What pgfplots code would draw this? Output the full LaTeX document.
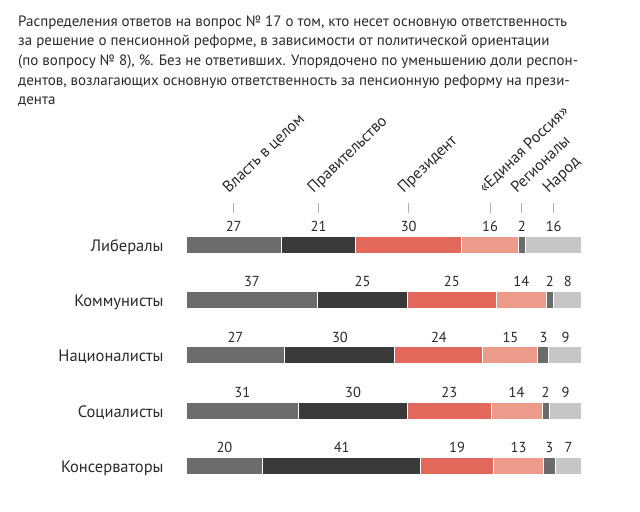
\documentclass[border=0pt]{standalone}
\usepackage{fontspec}
\setmainfont{PT Sans}
\usepackage{pgfplots}
\usepackage{pgfplotstable}
\pgfplotsset{compat=1.18}
\definecolor{cA}{HTML}{6C6C6C}
\definecolor{cB}{HTML}{3A3A3A}
\definecolor{cC}{HTML}{E2685B}
\definecolor{cD}{HTML}{EC9A8A}
\definecolor{cE}{HTML}{6B6B6B}
\definecolor{cF}{HTML}{C6C6C6}
\definecolor{txt}{HTML}{2A2A2A}
\definecolor{tk}{HTML}{B0B0B0}

\pgfplotstableread{
row a b c d e f
0 27 21 30 16 2 16
1 37 25 25 14 2 8
2 27 30 24 15 3 9
3 31 30 23 14 2 9
4 20 41 19 13 3 7
}\data

\newcommand{\T}{(\thisrow{a}+\thisrow{b}+\thisrow{c}+\thisrow{d}+\thisrow{e}+\thisrow{f})}

\pgfplotsset{base/.style={
  scale only axis, width=640bp, height=512bp,
  xmin=-46.97, xmax=114.65, ymin=-4.434, ymax=4.833, y dir=reverse,
  axis lines=none, clip=false, anchor=south west, at={(0,0)},
  /pgf/number format/assume math mode=true
}}
\tikzset{hdr/.style={xshift=-5bp, rotate=44, anchor=base west, inner sep=0pt, text=txt,
    font=\fontsize{16bp}{18bp}\selectfont},
  rl/.style={anchor=base east, inner sep=0pt, yshift=-6.5bp, text=txt,
    font=\fontsize{16.5bp}{18bp}\selectfont},
  tkl/.style={tk, line width=1bp}}

\begin{document}
\begin{tikzpicture}
\begin{axis}[base, xbar stacked, bar width=0.308]
\addplot[fill=cA, draw=white, line width=1bp] table[y=row, x expr={100*\thisrow{a}/\T}]{\data};
\addplot[fill=cB, draw=white, line width=1bp] table[y=row, x expr={100*\thisrow{b}/\T}]{\data};
\addplot[fill=cC, draw=white, line width=1bp] table[y=row, x expr={100*\thisrow{c}/\T}]{\data};
\addplot[fill=cD, draw=white, line width=1bp] table[y=row, x expr={100*\thisrow{d}/\T}]{\data};
\addplot[fill=cE, draw=white, line width=1bp] table[y=row, x expr={100*\thisrow{e}/\T}]{\data};
\addplot[fill=cF, draw=white, line width=1bp] table[y=row, x expr={100*\thisrow{f}/\T}]{\data};
\end{axis}
\begin{axis}[base, point meta=explicit,
  nodes near coords,
  every node near coord/.append style={anchor=base, yshift=13.3bp, inner sep=0pt,
     font=\fontsize{14.5bp}{16bp}\selectfont, text=txt}]
\addplot[draw=none, mark=none, nodes near coords] table[y=row, x expr={100*(\thisrow{a}/2)/\T}, meta=a]{\data};
\addplot[draw=none, mark=none, nodes near coords] table[y=row, x expr={100*(\thisrow{a}+\thisrow{b}/2)/\T}, meta=b]{\data};
\addplot[draw=none, mark=none, nodes near coords] table[y=row, x expr={100*(\thisrow{a}+\thisrow{b}+\thisrow{c}/2)/\T}, meta=c]{\data};
\addplot[draw=none, mark=none, nodes near coords] table[y=row, x expr={100*(\thisrow{a}+\thisrow{b}+\thisrow{c}+\thisrow{d}/2)/\T}, meta=d]{\data};
\addplot[draw=none, mark=none, nodes near coords] table[y=row, x expr={100*(\thisrow{a}+\thisrow{b}+\thisrow{c}+\thisrow{d}+\thisrow{e}/2)/\T}, meta=e]{\data};
\addplot[draw=none, mark=none, nodes near coords] table[y=row, x expr={100*(\thisrow{a}+\thisrow{b}+\thisrow{c}+\thisrow{d}+\thisrow{e}+\thisrow{f}/2)/\T}, meta=f]{\data};

% row labels
\node[rl] at (axis cs:-5.6,0) {Либералы};
\node[rl] at (axis cs:-5.6,1) {Коммунисты};
\node[rl] at (axis cs:-5.6,2) {Националисты};
\node[rl] at (axis cs:-5.6,3) {Социалисты};
\node[rl] at (axis cs:-5.6,4) {Консерваторы};
% header ticks and labels
\draw[tkl] (axis cs:12.054,-0.760) -- (axis cs:12.054,-0.579);
\draw[tkl] (axis cs:33.48,-0.760) -- (axis cs:33.48,-0.579);
\draw[tkl] (axis cs:56.25,-0.760) -- (axis cs:56.25,-0.579);
\draw[tkl] (axis cs:76.79,-0.760) -- (axis cs:76.79,-0.579);
\draw[tkl] (axis cs:84.82,-0.760) -- (axis cs:84.82,-0.579);
\draw[tkl] (axis cs:92.86,-0.760) -- (axis cs:92.86,-0.579);
\node[hdr] at (axis cs:12.054,-0.923) {Власть в целом};
\node[hdr] at (axis cs:33.48,-0.923) {Правительство};
\node[hdr] at (axis cs:56.25,-0.923) {Президент};
\node[hdr] at (axis cs:76.79,-0.923) {«Единая Россия»};
\node[hdr] at (axis cs:84.82,-0.923) {Регионалы};
\node[hdr] at (axis cs:92.86,-0.923) {Народ};
% title
\node[anchor=north west, align=left, inner sep=0pt, text=txt,
  font=\fontsize{15bp}{19.7bp}\selectfont] at (axis cs:-42.42,-4.16) {%
Распределения ответов на вопрос № 17 о том, кто несет основную ответственность\\
за решение о пенсионной реформе, в зависимости от политической ориентации\\
(по вопросу № 8), \%. Без не ответивших. Упорядочено по уменьшению доли респон-\\
дентов, возлагающих основную ответственность за пенсионную реформу на прези-\\
дента};
\end{axis}
\pgfresetboundingbox
\path[use as bounding box] (0,0) rectangle (640bp,512bp);
\end{tikzpicture}
\end{document}
